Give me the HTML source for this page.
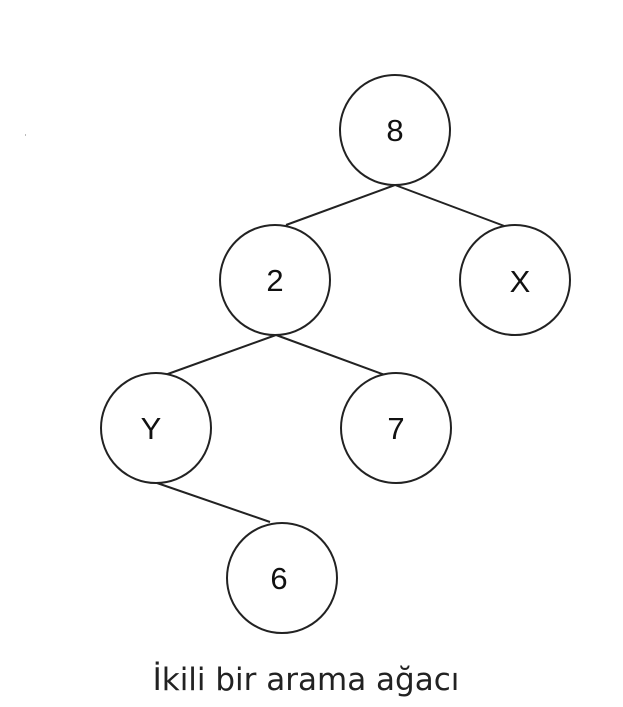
<!DOCTYPE html>
<html><head><meta charset="utf-8"><style>
html,body{margin:0;padding:0;background:#fff;}
</style></head><body>
<svg width="623" height="702" viewBox="0 0 623 702" xmlns="http://www.w3.org/2000/svg">
<g stroke="#222" stroke-width="2" fill="none">
<line x1="395" y1="185" x2="286" y2="225"/>
<line x1="395" y1="185" x2="507" y2="227"/>
<line x1="276" y1="335" x2="165" y2="375"/>
<line x1="276" y1="335" x2="385" y2="375"/>
<line x1="157" y1="483" x2="270" y2="522"/>
<circle cx="395" cy="130" r="55" fill="#fff"/>
<circle cx="275" cy="280" r="55" fill="#fff"/>
<circle cx="515" cy="280" r="55" fill="#fff"/>
<circle cx="156" cy="428" r="55" fill="#fff"/>
<circle cx="396" cy="428" r="55" fill="#fff"/>
<circle cx="282" cy="578" r="55" fill="#fff"/>
</g>
<rect x="25" y="134" width="1" height="2" fill="#bbb"/>
<g font-family="Liberation Sans, sans-serif" font-size="31" fill="#111" text-anchor="middle">
<text x="395" y="141">8</text>
<text x="275" y="291">2</text>
<text x="520" y="292">X</text>
<text x="151" y="439">Y</text>
<text x="396" y="439">7</text>
<text x="279" y="589">6</text>
</g>
<text x="306" y="690" font-family="DejaVu Sans, Liberation Sans, sans-serif" font-size="31" fill="#222" text-anchor="middle">İkili bir arama ağacı</text>
</svg>
</body></html>
